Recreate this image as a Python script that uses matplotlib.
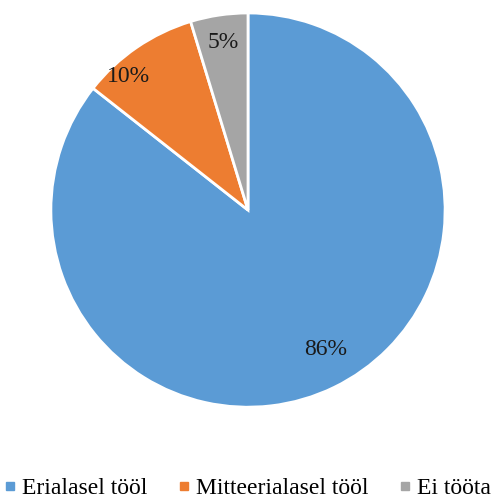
import numpy as np
import matplotlib
matplotlib.use("Agg")
import matplotlib.pyplot as plt
from matplotlib.lines import Line2D

labels = ["Erialasel tööl", "Mitteerialasel tööl", "Ei tööta"]
values = [85.6, 9.7, 4.7]
pct_text = ["86%", "10%", "5%"]
colors = ["#5B9BD5", "#ED7D31", "#A5A5A5"]
label_dist = [0.81, 0.91, 0.86]
label_shift = [3, 7.5, 0]   # degrees, like Excel's best-fit placement

plt.rcParams['font.family'] = ['Liberation Serif', 'DejaVu Serif']

fig = plt.figure(figsize=(4.99, 4.99), dpi=100)
ax = fig.add_axes([0.102, 0.184, 0.790, 0.790])

wedges, _ = ax.pie(values, colors=colors, startangle=90, counterclock=False,
                   wedgeprops=dict(edgecolor="white", linewidth=2))
ax.set_aspect("equal")
ax.set_xlim(-1, 1)
ax.set_ylim(-1, 1)

for w, txt, d, s in zip(wedges, pct_text, label_dist, label_shift):
    mid = np.deg2rad((w.theta1 + w.theta2) / 2 + s)
    ax.text(d * np.cos(mid), d * np.sin(mid), txt, ha="center", va="center",
            fontsize=17, color="#1a1a1a")

handles = [Line2D([0], [0], marker="s", linestyle="none", markersize=6,
                  markerfacecolor=c, markeredgecolor=c) for c in colors]
fig.legend(handles, labels, loc="center", bbox_to_anchor=(0.492, 0.022), ncol=3,
           frameon=False, fontsize=17, handletextpad=0.1, columnspacing=1.15,
           handlelength=0.8)

fig.savefig("out.png", dpi=100)
